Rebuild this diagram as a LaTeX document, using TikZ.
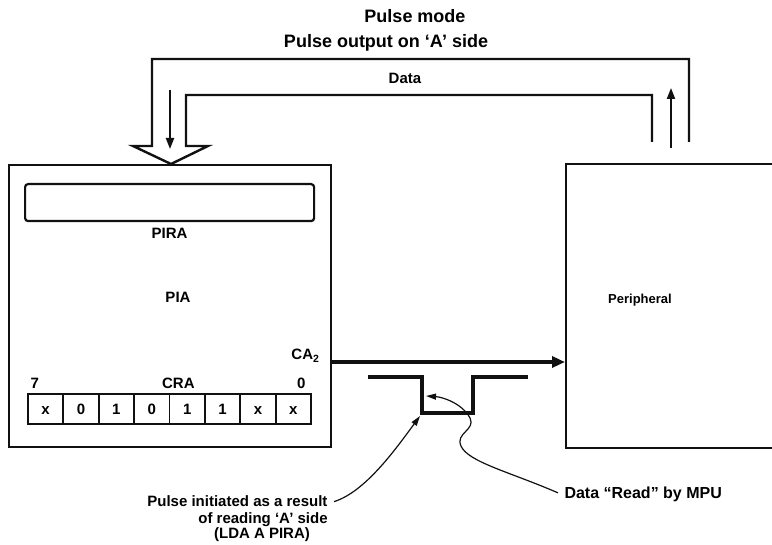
\documentclass[tikz,border=0pt]{standalone}
\usepackage{fontspec}
\setmainfont{Liberation Sans}
\usepackage{xcolor}
\usetikzlibrary{arrows.meta,calc,positioning}
\definecolor{Ink}{HTML}{111111}

\begin{document}
\begin{tikzpicture}[x=1pt,y=-1pt,>=Triangle,
  font=\bfseries\fontsize{15}{17}\selectfont,
  box/.style={draw=Ink,line width=2.2pt,inner sep=0pt},
  cell/.style={draw=Ink,line width=1.8pt,minimum width=35.4pt,minimum height=30pt,inner sep=0pt,
    text height=11pt,text depth=0pt,anchor=north west},
  bus/.style={draw=Ink,line width=2.4pt,line join=miter},
  flow/.style={draw=Ink,line width=2pt,-{Triangle[length=11pt,width=8pt]}},
  wave/.style={draw=Ink,line width=4pt,line join=miter},
  note/.style={draw=Ink,line width=1.2pt,-{Triangle[length=10pt,width=6pt]}},
  big/.style={font=\bfseries\fontsize{18}{21}\selectfont},
  small/.style={font=\bfseries\fontsize{13}{15}\selectfont}]
  \useasboundingbox (0,0) rectangle (772,545);
  % titles
  \node[big] (mode) at (415,16) {Pulse mode};
  \node[big] (side) at (386,43) {Pulse output on `A' side};
  % PIA and its registers
  \node[box,minimum width=322pt,minimum height=282pt,anchor=north west] (pia) at (8,164) {};
  \node[box,rounded corners=3pt,minimum width=289pt,minimum height=37pt,anchor=north west] (pira) at (24,183) {};
  \node[below=2pt of pira] (piralbl) {PIRA};
  \node (pialbl) at (178,297) {PIA};
  \foreach \b [count=\i from 0] in {x,0,1,0,1,1,x,x}
    \node[cell] (bit\i) at (27+\i*35.4,393) {\b};
  \node[above right=1pt and 0pt of bit0.north west,anchor=south west] (msb) {7};
  \node[above left=1pt and 3pt of bit7.north east,anchor=south east] (lsb) {0};
  \node[above=1pt of bit3.north east,anchor=south,xshift=8pt] (cralbl) {CRA};
  \node[anchor=base east] (ca2) at (323,360) {CA\textsubscript{2}};
  % peripheral, open to the right
  \node[box,minimum width=260pt,minimum height=284pt,anchor=north west] (periph) at (565,163) {};
  \node[small] (periphlbl) at (640,300) {Peripheral};
  % data bus with hollow head
  \draw[bus] (689,142) -- (689,59) -- (152,59) -- (152,146) -- (133,146)
    -- (pia.north -| 171,0) -- (208,146) -- (186,146) -- (186,95) -- (652,95) -- (652,142);
  \node (datalbl) at (405,78) {Data};
  \coordinate (dntop) at (170,90);
  \coordinate (dnend) at (170,149);
  \coordinate (uptop) at (671,88);
  \coordinate (upend) at (671,148);
  \draw[flow] (dntop) -- (dnend);
  \draw[flow] (upend) -- (uptop);
  % CA2 output
  \coordinate (tap) at (330,362);
  \draw[draw=Ink,line width=3.6pt,-{Triangle[length=13pt,width=11pt]}] (tap) -- (tap -| periph.west);
  % pulse
  \coordinate (fall) at (422,413);
  \coordinate (lowstep) at (426,396);
  \draw[wave] (368,377) -- (422,377) -- (fall) -- (473,413) -- (473,377) -- (528,377);
  % notes
  \node[anchor=base east] (init1) at (331,507) {Pulse initiated as a result};
  \node[anchor=base] (init2) at (263,523) {of reading `A' side};
  \node[anchor=base] (init3) at (262,539) {(LDA A PIRA)};
  \node[anchor=base west,font=\bfseries\fontsize{16}{18}\selectfont] (readlbl) at (561,499) {Data ``Read'' by MPU};
  \draw[note] ($(init1.east)+(3,0)$) .. controls (365,492) and (395,450) .. ($(fall)+(-2,3)$);
  \draw[note] ($(readlbl.west)+(-3,-2)$) .. controls (510,472) and (468,462) .. (461,446)
    .. controls (455,433) and (476,430) .. (470,418) .. controls (462,403) and (442,397) .. (lowstep);
\end{tikzpicture}
\end{document}
